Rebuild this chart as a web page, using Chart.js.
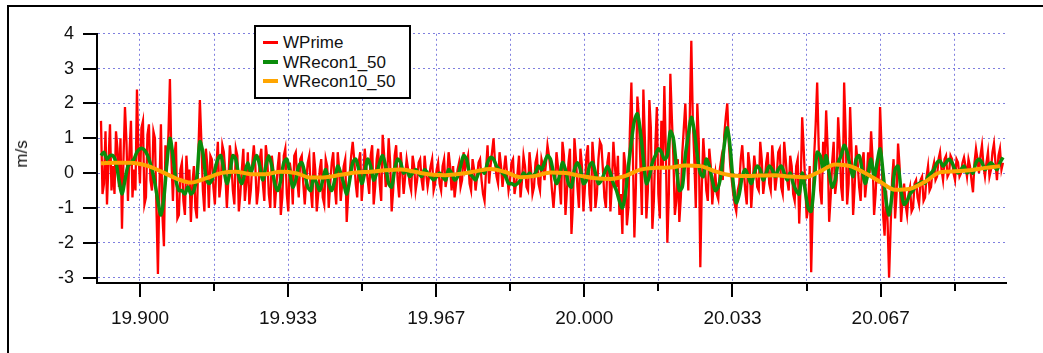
<!DOCTYPE html>
<html>
<head>
<meta charset="utf-8">
<title>WPrime</title>
<script src="https://cdn.jsdelivr.net/npm/chart.js@4.4.1/dist/chart.umd.min.js"></script>
<style>
  html, body { margin: 0; padding: 0; background: #fff; }
  body {
    width: 1043px; height: 353px; position: relative; overflow: hidden;
    font-family: Arial, "Liberation Sans", sans-serif; color: #111;
  }
  .frame {
    position: absolute; left: 7px; top: 5px; width: 1100px; height: 400px;
    border-left: 2px solid #000; border-top: 2px solid #000;
  }
  .chart-container { position: absolute; left: 0; top: 0; width: 1043px; height: 353px; }
  .y-title {
    position: absolute; left: 22px; top: 154px; font-size: 17px;
    transform: translate(-50%, -50%) rotate(-90deg); white-space: nowrap;
  }
  .legend-box {
    position: absolute; left: 254px; top: 25px; width: 153px; height: 70px;
    border: 2px solid #000; background: #fff;
  }
  .legend-row { position: absolute; left: 0; height: 20px; width: 153px; }
  .legend-row .swatch { position: absolute; left: 7px; top: 9px; width: 15px; }
  .legend-row span { position: absolute; left: 27px; top: 0; font-size: 17px; line-height: 20px; }
</style>
</head>
<body>
<div class="frame"></div>
<div class="chart-container">
  <canvas id="wChart" width="1043" height="353"></canvas>
</div>
<div class="y-title">m/s</div>
<div class="legend-box" id="legendBox"></div>

<script>
// sample times (hours)
const startTime = 19.89123;
const wPrimeStep = 0.00033715;   // raw signal
const reconStep = 0.0006743;     // WRecon1_50
const smoothStep = 0.0033715;    // WRecon10_50

const seriesNames = ["WPrime", "WRecon1_50", "WRecon10_50"];
const seriesColors = ["#ff0000", "#0b8c0b", "#ffa500"];

const wPrime = [
  1.5, -0.6, -0.3, 1.2, -0.9, 0.3, 1.4, -0.5, 0.2, -0.6, 1.2, 0.7, -0.4, 1.0, -1.6, 0.4, 1.9, 0.9, -0.8, 0.6, 1.5, -0.7, 0.1, -0.5,
  2.4, 0.6, -0.3, 1.3, 1.5, -0.9, -0.7, 1.1, 1.4, -0.2, -0.5, 1.2, 1.0, -1.0, -2.9, -0.4, 1.4, -1.2, -2.1, 0.8, 0.2, 1.1, 2.7, 0.4, -0.8, 0.5, 0.9, -1.3, -1.2, 0.1,
  0.3, -0.8, -1.2, 0.5, -0.2, 0.1, -1.4, -0.3, 0.2, -1.0, -1.3, 0.6, 2.1, 0.9, -0.5, -1.1, 0.7, 0.2, -1.0, 0.5,
  0.4, -0.4, -0.9, 0.2, 0.9, -0.7, -0.3, 0.8, 0.6, 0.0, -1.0, -0.2, 0.8, 0.3, -0.5, -0.9, 0.7, 0.5, -1.1, -0.6, 0.1, 0.7, -0.8, -0.3, 0.6, -0.9, -0.5, 0.3,
  0.8, 0.2, -0.9, -0.5, 0.4, 0.7, -0.3, -0.8, 0.8, 0.4, -0.6, -1.0, 0.5, 0.1, -1.0, -0.4, 0.2, 0.6, -1.2, -0.7, 0.5, 0.7, -0.6, -1.1, 0.3, 0.0, -0.9, 0.5, 0.6, -0.2, -0.7, 0.4,
  0.5, -0.3, -0.9, -0.2, 0.3, 0.5, -0.5, -1.0, 0.6, 0.1, -1.1, -0.6, 0.1, 0.4, -0.7, -0.9, 0.4, 0.2, -1.0, -0.3, 0.3, 0.6, -0.4, -0.9, 0.6, 0.1, -0.8, -0.3, 0.2, 0.4, -1.4, -0.6, 0.0, 0.5,
  0.9, 0.4, -0.3, -0.7, 0.3, 0.6, -0.8, -0.2, 0.7, 0.2, -0.2, -0.6, 0.5, 0.8, -0.9, -0.4, 0.4, 0.7, -0.3, -0.8, 1.1, 0.5, -0.4, -0.1, 1.0, 0.3, -1.1, -0.5, 0.5, 0.8, -0.2, -0.7, 0.6, 0.1,
  -0.6, -0.1, 0.4, 0.1, -0.3, -0.5, 0.5, 0.2, -0.5, -0.2, 0.3, 0.4, -0.2, -0.5, 0.5, 0.0, -0.4, -0.1, 0.2, 0.4, -0.5, -0.3, 0.1, 0.3, -0.3, -0.5, 0.2, 0.4, -0.4, -0.1, 0.6, 0.2, -0.5, 0.2,
  -0.7, -0.3, 0.1, 0.3, -0.4, -0.2, 0.6, 0.1, 0.3, 0.5, -0.3, -0.5, 0.4, 0.1, -0.5, -0.1, 0.3, 0.4, -0.2, -0.6, -0.8, 0.1, 0.8, -0.3, 0.2, 0.6, 1.0, 0.3, -0.1, -0.3, 0.6, 0.2, -0.4, 0.1,
  0.5, 0.0, -0.5, -0.2, 0.3, 0.4, -0.6, -0.3, 0.0, 0.5, -0.7, -0.2, 0.5, 0.2, -0.4, -0.5, 0.6, 0.1, -0.6, -0.4, 0.3, 0.5, -0.3, -0.5, 0.4, 0.2, -0.2, 0.3, 0.8, 0.5, 0.1, -0.5,
  -1.0, -0.4, 0.6, 0.2, -0.3, -0.9, 0.9, 0.5, -1.2, -0.5, 0.3, 0.7, -1.75, -0.9, 1.0, 0.4, -0.4, -1.0, 0.7, 0.2, -1.1, -0.4, 0.5, 0.8, -0.6, -1.1, 0.9, 0.3, -1.0, -0.6, 0.4, 0.9,
  0.8, 0.1, -0.7, -1.0, 0.3, 0.6, -1.1, -0.3, 0.9, 0.2, -0.4, 0.5, -1.2, -0.6, -1.75, 0.6, 0.2, -1.5, -1.0, 1.2, 2.6, 0.5, -1.85, -0.4, 2.2, 1.6, 0.3, -1.2, 2.4, 1.0, -1.3, -0.5, 2.1, 1.3,
  -1.6, -0.8, 0.8, 1.9, -0.6, -1.3, 1.5, 0.2, 2.5, 0.6, -2.0, -0.6, 2.85, 1.6, 0.5, -1.2, -0.8, 0.4, -1.4, -0.7, 0.6, 1.3, 2.0, 0.8, -0.5, 1.7, 3.8, 1.5, 0.4, -1.0, 2.0, 0.9, -2.7, -0.4,
  1.0, 0.3, -0.5, -0.8, 0.7, 0.2, -0.9, -0.3, 0.0, -0.6, -0.75, 0.1, 0.4, -0.2, 1.1, 1.6, 2.0, 0.9, 0.2, -0.2, -0.6, -0.9, -1.1, -0.5, -0.3, 0.4, 0.8, 0.1, -0.5, -0.9, 0.6, 0.2, -1.0, -0.3,
  0.5, 0.1, -0.4, -0.5, 0.9, 0.4, -0.6, -0.2, 0.3, 0.6, -0.3, -0.5, 0.8, 0.3, -0.5, -0.1, 0.6, 0.7, -0.4, -0.6, 0.9, 0.4, -0.2, -0.5, 0.5, 0.2, -0.6, -0.8, 0.2, 0.4, -1.45, -0.3, 1.6, 0.7,
  -0.3, -1.3, -1.0, 0.2, -2.85, -1.0, 0.5, 1.4, 2.6, 0.8, -0.5, -0.9, 0.9, 0.2, 1.8, 0.7, -1.4, -0.7, 0.3, 0.9, -0.6, -0.2, 1.6, 0.8, -0.4, -0.8, 2.6, 1.2, -0.9, -0.3, 1.9, 0.6,
  -1.2, -0.4, 0.8, 0.3, -0.4, -0.8, 0.3, 0.6, -0.7, -0.2, 0.6, 0.0, 1.2, 0.4, -1.2, -0.6, 0.4, -0.3, 1.9, 0.7, -1.2, -1.8, -0.5, -1.4, -3.0, -1.6, -0.2, 0.4, -1.3, -0.6, 0.85, 0.2, -1.4, -0.8,
  -0.3, -0.9, -1.2, -0.6, -0.4, -1.1, -1.0, -0.3, -0.2, -0.7, -0.9, -0.2, -0.1, -0.8, -0.7, -0.1, 0.2, -0.5, -0.4, 0.1, 0.3, -0.2, -0.1, 0.4, 0.6, 0.1, -0.2, 0.4, 0.5, -0.1, 0.0, 0.5,
  0.4, 0.0, -0.2, 0.4, 0.3, -0.1, 0.0, 0.3, 0.45, 0.2, -0.1, 0.4, 0.2, -0.2, -0.55, 0.3, 0.7, 0.4, 0.0, 0.5, 0.8, 0.2, -0.1, 0.3, 0.6, -0.1, 0.1, 0.6, 0.85, 0.3, -0.2, 0.5, 0.7, 0.1, 0.3
];

const wRecon1 = [
  0.5, 0.6, 0.4, 0.5, 0.5, 0.3, -0.2, -0.6, -0.2, 0.2, 0.3, 0.4,
  0.6, 0.7, 0.7, 0.6, 0.4, 0.1, -0.3, -0.8, -1.2, -0.7, 0.3, 1.0, 0.5, -0.2, -0.5,
  -0.5, -0.6, -0.4, -0.6, -0.5, -0.1, 0.9, 0.6, -0.1, -0.3,
  -0.2, 0.1, 0.4, 0.5, 0.1, -0.3, 0.0, 0.5, 0.4, -0.1, -0.3, 0.0, 0.3, 0.0,
  0.3, 0.5, 0.2, -0.2, 0.2, 0.5, 0.2, -0.3, -0.5, -0.2, 0.3, 0.4, 0.0, -0.4, -0.2, 0.2,
  0.3, 0.0, -0.4, -0.5, -0.1, -0.3, -0.5, -0.2, 0.1, -0.3, -0.5, -0.2, 0.2, 0.0, -0.3, -0.6, -0.2,
  0.3, 0.4, 0.1, -0.3, 0.0, 0.4, 0.2, -0.2, 0.0, 0.3, 0.5, 0.2, -0.3, -0.4, 0.1, 0.4, 0.3,
  0.0, 0.1, -0.1, 0.0, 0.1, 0.0, -0.1, 0.1, 0.0, -0.1, -0.2, -0.1, 0.0, -0.1, -0.2, 0.1, 0.0,
  -0.2, -0.1, 0.2, 0.5, 0.4, 0.0, -0.1, -0.2, 0.0, 0.1, 0.0, 0.3, 0.45, 0.4, 0.2, 0.1, 0.0,
  -0.1, -0.3, -0.3, -0.35, -0.3, -0.2, 0.0, -0.1, 0.0, -0.1, 0.0, 0.2, 0.1, 0.3, 0.5, 0.4,
  0.0, -0.3, -0.1, 0.3, 0.1, -0.3, -0.4, 0.1, 0.3, 0.1, -0.3, -0.2, 0.2, 0.3, 0.0, -0.3,
  -0.2, 0.0, 0.2, 0.0, -0.3, -0.5, -0.8, -1.0, -0.6, 0.2, 0.9, 1.5, 1.7, 1.2, 0.4, -0.3, -0.1,
  0.3, 0.5, 0.7, 0.6, 0.4, 0.5, 1.2, 1.0, 0.2, -0.5, -0.4, 0.5, 1.1, 1.6, 1.2, 0.5, 0.0,
  -0.1, 0.4, 0.2, -0.2, -0.5, -0.4, 0.0, 0.8, 1.3, 0.7, -0.3, -0.85, -0.6, -0.1, 0.1, -0.1, -0.3,
  0.0, 0.2, 0.1, -0.2, 0.0, 0.2, 0.1, -0.1, 0.1, 0.2, 0.0, -0.2, 0.0, -0.3, -0.5, -0.6, 0.0,
  -0.5, -1.0, -1.1, -0.3, 0.6, 0.5, 0.1, 0.5, 0.0, -0.4, -0.2, 0.3, 0.5, 0.8, 0.6, 0.2,
  -0.1, 0.4, 0.5, 0.1, -0.3, 0.0, 0.4, -0.1, 0.3, 0.7, 0.0, -0.8, -1.2, -0.6, 0.1, 0.2, -0.5,
  -0.9, -0.8, -0.6, -0.5, -0.35, -0.3, -0.25, -0.3, -0.1, 0.0, 0.1, 0.3, 0.35, 0.2, 0.3, 0.4,
  0.3, 0.1, 0.0, 0.1, 0.2, 0.0, 0.1, 0.0, 0.3, 0.4, 0.3, 0.1, 0.2, 0.3, 0.2, 0.1, 0.3, 0.45
];

const wRecon10 = [
  0.28, 0.30, 0.30, 0.22, 0.05, -0.15, -0.27, -0.15, 0.0, 0.04,
  -0.03, -0.03, 0.04, 0.0, -0.13, -0.12, -0.05, 0.02, 0.04, 0.08,
  0.10, 0.03, -0.04, -0.06, -0.02, 0.05, 0.12, 0.03, -0.12, -0.08,
  0.02, 0.0, -0.08, -0.15, -0.17, -0.08, 0.10, 0.15, 0.16, 0.22,
  0.20, 0.05, -0.06, -0.08, -0.07, -0.06, -0.10, -0.12, 0.05, 0.25,
  0.20, 0.0, -0.25, -0.48, -0.45, -0.25, 0.02, 0.05, 0.08, 0.15,
  0.20
];

const majorTicks = [19.9, 19.93333, 19.96667, 20.0, 20.03333, 20.06667];
const minorTicks = [19.91667, 19.95, 19.98333, 20.01667, 20.05, 20.08333];
const yTickValues = [-3, -2, -1, 0, 1, 2, 3, 4];

const xMin = 19.89033;
const xMax = 20.09488;
const yMin = -3.156;
const yMax = 4;

function toPoints(values, step) {
  return values.map((v, i) => ({ x: startTime + i * step, y: v }));
}

function buildLegend() {
  const box = document.getElementById("legendBox");
  const tops = [6, 26, 45];
  const widths = [3, 4, 4];
  box.innerHTML = seriesNames
    .map(
      (name, i) => `
        <div class="legend-row" style="top:${tops[i]}px">
            <div class="swatch" style="height:${widths[i]}px;margin-top:-${widths[i] / 2}px;background:${seriesColors[i]}"></div>
            <span>${name}</span>
        </div>
    `
    )
    .join("");
}

// tick marks drawn outside the plot: long for labelled x ticks, short for the others
const axisTickMarks = {
  id: "axisTickMarks",
  afterDraw(chart) {
    const { ctx, chartArea, scales } = chart;
    ctx.save();
    ctx.strokeStyle = "#000";
    ctx.lineWidth = 2;
    ctx.beginPath();
    yTickValues.forEach((v) => {
      const py = Math.round(scales.y.getPixelForValue(v));
      ctx.moveTo(chartArea.left - 14, py);
      ctx.lineTo(chartArea.left, py);
    });
    majorTicks.forEach((v) => {
      const px = Math.round(scales.x.getPixelForValue(v));
      ctx.moveTo(px, chartArea.bottom);
      ctx.lineTo(px, chartArea.bottom + 14);
    });
    minorTicks.forEach((v) => {
      const px = Math.round(scales.x.getPixelForValue(v));
      ctx.moveTo(px, chartArea.bottom);
      ctx.lineTo(px, chartArea.bottom + 8);
    });
    ctx.stroke();
    ctx.restore();
  },
};

function renderChart() {
  const ctx = document.getElementById("wChart");
  const gridColor = "rgba(95, 95, 215, 0.8)";
  const xFont = { family: "Arial, 'Liberation Sans', sans-serif", size: 19 };
  const yFont = { family: "Arial, 'Liberation Sans', sans-serif", size: 18 };

  new Chart(ctx, {
    type: "line",
    data: {
      datasets: [
        {
          label: seriesNames[0],
          data: toPoints(wPrime, wPrimeStep),
          borderColor: seriesColors[0],
          borderWidth: 2.3,
          tension: 0,
          order: 3,
        },
        {
          label: seriesNames[1],
          data: toPoints(wRecon1, reconStep),
          borderColor: seriesColors[1],
          borderWidth: 3.5,
          tension: 0.3,
          order: 2,
        },
        {
          label: seriesNames[2],
          data: toPoints(wRecon10, smoothStep),
          borderColor: seriesColors[2],
          borderWidth: 4,
          cubicInterpolationMode: "monotone",
          order: 1,
        },
      ],
    },
    options: {
      responsive: false,
      animation: false,
      events: [],
      layout: { padding: { left: 0, top: 29, right: 37, bottom: 0 } },
      elements: { point: { radius: 0 } },
      scales: {
        x: {
          type: "linear",
          min: xMin,
          max: xMax,
          afterBuildTicks: (scale) => {
            scale.ticks = majorTicks.concat(minorTicks).sort((a, b) => a - b).map((v) => ({ value: v }));
          },
          afterFit: (scale) => {
            scale.height = 70;
          },
          grid: { color: gridColor, lineWidth: 1, drawTicks: false },
          border: { display: true, color: "#000", width: 2, dash: [2, 3] },
          ticks: {
            autoSkip: false,
            maxRotation: 0,
            padding: 24,
            color: "#111",
            font: xFont,
            callback: (value) => (majorTicks.includes(value) ? value.toFixed(3) : ""),
          },
        },
        y: {
          type: "linear",
          min: yMin,
          max: yMax,
          afterBuildTicks: (scale) => {
            scale.ticks = yTickValues.map((v) => ({ value: v }));
          },
          afterFit: (scale) => {
            scale.width = 97;
          },
          grid: { color: gridColor, lineWidth: 1, drawTicks: false },
          border: { display: true, color: "#000", width: 2, dash: [2, 3] },
          ticks: { padding: 23, color: "#111", font: yFont },
        },
      },
      plugins: {
        legend: { display: false },
        tooltip: { enabled: false },
      },
    },
    plugins: [axisTickMarks],
  });
}

buildLegend();
renderChart();
</script>
</body>
</html>
